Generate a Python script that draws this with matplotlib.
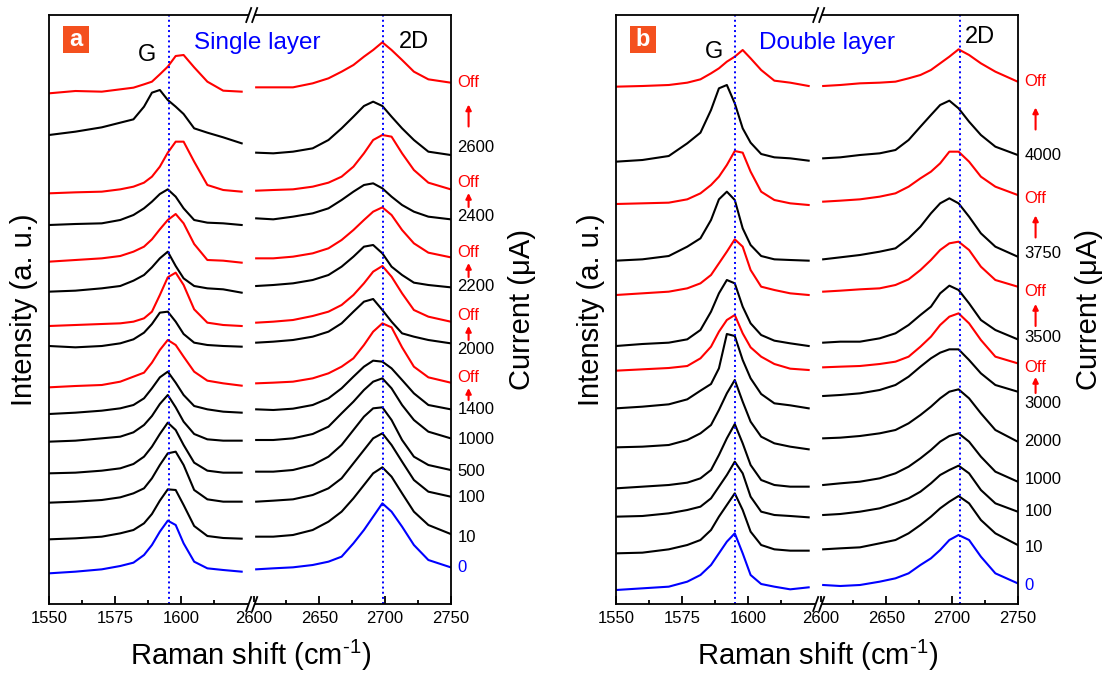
import matplotlib
matplotlib.use('Agg')
import matplotlib.pyplot as plt
from matplotlib.lines import Line2D
from matplotlib.patches import Rectangle

plt.rcParams['font.family'] = ['Liberation Sans', 'DejaVu Sans']
plt.rcParams['mathtext.fontset'] = 'custom'
plt.rcParams['mathtext.rm'] = 'Liberation Sans'
plt.rcParams['mathtext.default'] = 'regular'

W, H = 1109, 677

# Raman shift sampling (cm-1) for the G and 2D windows
g_shift = [1550, 1560, 1570, 1577, 1582, 1586, 1589, 1592, 1595, 1598, 1601, 1605, 1610, 1616, 1623]
d_shift = [2602, 2615, 2630, 2645, 2657, 2667, 2676, 2684, 2691, 2698, 2705, 2713, 2722, 2733, 2750]

# single layer, stacked spectra (a.u.), top to bottom
single_labels = ['Off', '2600', 'Off', '2400', 'Off', '2200', 'Off', '2000', 'Off',
                 '1400', '1000', '500', '100', '10', '0']
single_label_y = [1563, 1368, 1263, 1161, 1053, 951, 864, 762, 678, 582, 492, 399, 321, 198, 111]
single_g = [
    [1532, 1539, 1537, 1544, 1549, 1559, 1567, 1589, 1612, 1644, 1647, 1610, 1567, 1540, 1537],
    [1407, 1417, 1430, 1444, 1454, 1492, 1534, 1542, 1512, 1492, 1470, 1427, 1414, 1400, 1382],
    [1232, 1235, 1237, 1244, 1252, 1264, 1282, 1312, 1354, 1387, 1387, 1327, 1257, 1242, 1237],
    [1137, 1140, 1142, 1152, 1167, 1187, 1207, 1230, 1244, 1222, 1187, 1152, 1144, 1142, 1137],
    [1027, 1032, 1037, 1044, 1057, 1072, 1094, 1124, 1152, 1170, 1142, 1080, 1032, 1030, 1024],
    [937, 940, 947, 954, 970, 987, 1010, 1037, 1057, 1014, 977, 954, 947, 944, 934],
    [834, 837, 840, 842, 847, 857, 877, 927, 980, 994, 957, 884, 844, 837, 834],
    [774, 770, 774, 782, 794, 814, 840, 874, 877, 847, 810, 784, 777, 774, 772],
    [650, 654, 657, 667, 682, 694, 724, 762, 792, 777, 742, 697, 670, 662, 655],
    [570, 574, 580, 587, 597, 617, 647, 680, 697, 664, 627, 594, 584, 577, 574],
    [487, 490, 497, 502, 515, 537, 564, 600, 627, 590, 547, 510, 494, 490, 490],
    [392, 394, 400, 407, 420, 442, 472, 510, 544, 522, 477, 424, 400, 394, 394],
    [304, 307, 312, 320, 332, 347, 377, 417, 452, 457, 417, 342, 314, 307, 307],
    [194, 197, 202, 212, 222, 242, 270, 310, 344, 342, 297, 234, 204, 198, 196],
    [92, 97, 104, 114, 124, 147, 177, 217, 250, 237, 182, 127, 107, 102, 97],
]
single_2d = [
    [1550, 1550, 1550, 1562, 1577, 1597, 1617, 1642, 1662, 1685, 1662, 1632, 1597, 1574, 1564],
    [1354, 1352, 1357, 1367, 1392, 1427, 1462, 1494, 1507, 1494, 1462, 1427, 1392, 1357, 1347],
    [1240, 1242, 1244, 1252, 1264, 1282, 1312, 1352, 1392, 1407, 1402, 1352, 1302, 1264, 1244],
    [1157, 1154, 1162, 1172, 1187, 1212, 1237, 1257, 1262, 1247, 1222, 1197, 1177, 1162, 1154],
    [1037, 1037, 1042, 1052, 1067, 1092, 1122, 1152, 1177, 1190, 1167, 1122, 1082, 1054, 1040],
    [954, 957, 962, 972, 987, 1012, 1042, 1072, 1077, 1052, 1012, 987, 964, 957, 950],
    [844, 847, 852, 864, 877, 897, 927, 962, 997, 1014, 982, 932, 882, 862, 847],
    [784, 787, 792, 802, 817, 842, 877, 907, 915, 882, 847, 812, 802, 792, 782],
    [662, 664, 667, 677, 692, 712, 737, 777, 817, 842, 830, 770, 712, 680, 664],
    [584, 582, 586, 597, 617, 647, 682, 712, 730, 727, 707, 672, 632, 597, 584],
    [492, 492, 497, 510, 532, 572, 607, 642, 667, 677, 647, 597, 552, 517, 497],
    [397, 397, 402, 417, 442, 477, 522, 562, 587, 590, 552, 492, 442, 417, 402],
    [307, 310, 314, 327, 347, 377, 422, 462, 497, 512, 477, 427, 372, 337, 322],
    [202, 202, 207, 222, 247, 277, 317, 357, 392, 410, 382, 332, 277, 237, 210],
    [104, 107, 110, 117, 127, 142, 182, 222, 262, 302, 277, 232, 177, 132, 110],
]

# double layer
double_labels = ['Off', '4000', 'Off', '3750', 'Off', '3500', 'Off', '3000',
                 '2000', '1000', '100', '10', '0']
double_label_y = [1566, 1347, 1215, 1050, 936, 798, 711, 603, 486, 372, 276, 168, 57]
double_g = [
    [1552, 1554, 1557, 1564, 1574, 1592, 1607, 1627, 1642, 1662, 1637, 1602, 1570, 1564, 1554],
    [1327, 1332, 1344, 1382, 1414, 1482, 1547, 1557, 1502, 1427, 1384, 1350, 1340, 1337, 1330],
    [1200, 1202, 1204, 1214, 1232, 1257, 1282, 1317, 1359, 1354, 1297, 1237, 1212, 1202, 1197],
    [1030, 1034, 1044, 1072, 1097, 1152, 1214, 1237, 1212, 1127, 1077, 1044, 1034, 1032, 1030],
    [927, 932, 937, 947, 962, 987, 1022, 1057, 1094, 1072, 1002, 952, 942, 932, 927],
    [774, 780, 784, 794, 822, 877, 932, 972, 962, 892, 842, 807, 790, 782, 774],
    [700, 704, 708, 714, 737, 772, 817, 852, 867, 812, 770, 742, 720, 706, 702],
    [587, 592, 599, 614, 640, 660, 707, 810, 804, 732, 677, 630, 602, 596, 587],
    [470, 472, 477, 492, 512, 537, 582, 632, 672, 607, 547, 502, 482, 472, 464],
    [347, 352, 357, 364, 377, 402, 447, 497, 540, 482, 417, 372, 357, 352, 352],
    [262, 264, 272, 282, 292, 317, 352, 387, 427, 392, 322, 277, 267, 264, 260],
    [152, 154, 164, 177, 192, 222, 262, 297, 332, 282, 217, 177, 164, 160, 160],
    [42, 47, 52, 67, 87, 117, 152, 187, 212, 152, 87, 60, 52, 44, 50],
]
double_2d = [
    [1554, 1557, 1562, 1564, 1567, 1577, 1587, 1602, 1622, 1642, 1664, 1647, 1622, 1597, 1567],
    [1337, 1340, 1347, 1352, 1362, 1392, 1432, 1467, 1497, 1510, 1487, 1447, 1407, 1372, 1347],
    [1207, 1210, 1214, 1222, 1232, 1252, 1277, 1297, 1322, 1357, 1357, 1327, 1282, 1252, 1227],
    [1034, 1040, 1047, 1057, 1067, 1097, 1132, 1172, 1202, 1217, 1202, 1162, 1112, 1072, 1042],
    [937, 940, 944, 947, 957, 974, 1002, 1032, 1062, 1082, 1087, 1062, 1012, 972, 952],
    [784, 787, 787, 797, 812, 837, 867, 892, 932, 955, 942, 902, 852, 822, 794],
    [710, 712, 714, 720, 727, 742, 772, 802, 837, 862, 872, 842, 792, 742, 722],
    [624, 627, 632, 642, 657, 682, 712, 737, 754, 764, 764, 732, 692, 657, 637],
    [497, 499, 504, 512, 522, 542, 567, 592, 617, 637, 644, 617, 572, 522, 487],
    [357, 362, 367, 377, 392, 412, 437, 462, 487, 504, 512, 487, 442, 397, 367],
    [267, 270, 277, 287, 302, 317, 337, 362, 387, 402, 415, 392, 342, 302, 277],
    [164, 167, 170, 182, 192, 212, 237, 262, 287, 307, 324, 302, 252, 212, 177],
    [57, 54, 57, 67, 77, 92, 117, 137, 162, 192, 207, 192, 142, 92, 62],
]

# reference peak positions (dotted lines)
single_peaks = (1595.6, 2698.7)
double_peaks = (1595.2, 2706.0)

fig = plt.figure(figsize=(W / 100, H / 100), dpi=100)


def fx(px):
    return px / W


def fy(py):
    return 1 - py / H


def break_mark(xb, yb):
    fig.add_artist(Rectangle((fx(xb - 3), fy(yb + 2)), 6 / W, 4 / H, facecolor='white',
                             edgecolor='none', transform=fig.transFigure, zorder=5))
    for dx in (-3, 3):
        fig.add_artist(Line2D([fx(xb + dx - 2.5), fx(xb + dx + 2.5)], [fy(yb + 7), fy(yb - 7)],
                              color='black', lw=1.3, zorder=6))


def draw_panel(x0, g_data, d_data, labels, label_y, peaks, letter, title, title_x, d_x, g_y, d_y):
    wl, wr = 202.7, 199.0
    axl = fig.add_axes([fx(x0), fy(604), wl / W, 589 / H])
    axr = fig.add_axes([fx(x0 + wl), fy(604), wr / W, 589 / H])

    for i, lab in enumerate(labels):
        c = 'red' if lab == 'Off' else ('blue' if lab == '0' else 'black')
        axl.plot(g_shift, g_data[i], color=c, lw=1.5)
        axr.plot(d_shift, d_data[i], color=c, lw=1.5)
        axr.text(2755, label_y[i], lab, color=c, fontsize=12, ha='left', va='center')
        if lab == 'Off' and i + 1 < len(labels):
            hi, lo = label_y[i], label_y[i + 1]
            ln = min(hi - lo - 60, 66)
            mid = (hi + lo) / 2
            axr.annotate('', xy=(2763.6, mid + ln / 2), xytext=(2763.6, mid - ln / 2),
                         arrowprops=dict(arrowstyle='-|>', color='red', lw=1.5,
                                         mutation_scale=8, shrinkA=0, shrinkB=0),
                         annotation_clip=False)

    axl.axvline(peaks[0], color='blue', ls=':', lw=1.4)
    axr.axvline(peaks[1], color='blue', ls=':', lw=1.4)

    axl.set_xlim(1550, 1626.8)
    axr.set_xlim(2598.6, 2750)
    axl.set_xticks([1550, 1575, 1600])
    axl.set_xticks([1562.5, 1587.5, 1612.5], minor=True)
    axr.set_xticks([2600, 2650, 2700, 2750])
    axr.set_xticks([2625, 2675, 2725], minor=True)
    for ax in (axl, axr):
        ax.set_ylim(0, 1767)
        ax.set_yticks([])
        ax.tick_params(axis='x', which='major', direction='in', length=6, width=1.3,
                       labelsize=12, pad=5)
        ax.tick_params(axis='x', which='minor', direction='in', length=3, width=1.3)
        for s in ax.spines.values():
            s.set_linewidth(1.3)
    axl.spines['right'].set_visible(False)
    axr.spines['left'].set_visible(False)

    xb = x0 + wl
    break_mark(xb, 15)
    break_mark(xb, 604)

    fig.add_artist(Rectangle((fx(x0 + 13.5), fy(53)), 26 / W, 27 / H, facecolor='#F4501E',
                             edgecolor='none', transform=fig.transFigure))
    fig.text(fx(x0 + 26.5), fy(40), letter, color='white', fontsize=17, fontweight='bold',
             ha='center', va='center')
    fig.text(fx(x0 + 98), fy(g_y), 'G', fontsize=17, ha='center', va='center')
    fig.text(fx(x0 + title_x), fy(43), title, color='blue', fontsize=17.5, ha='center', va='center')
    fig.text(fx(x0 + d_x), fy(d_y), '2D', fontsize=17, ha='center', va='center')
    fig.text(fx(x0 - 25.3), fy(309.5), 'Intensity (a. u.)', rotation=90, fontsize=21,
             ha='center', va='center')
    fig.text(fx(x0 + 473), fy(309.5), 'Current (\u03bcA)', rotation=90, fontsize=21,
             ha='center', va='center')
    fig.text(fx(x0 + 202), fy(655), r'Raman shift (cm$^{\text{-}1}$)', fontsize=21,
             ha='center', va='center')


draw_panel(49, single_g, single_2d, single_labels, single_label_y, single_peaks, 'a',
           'Single layer', 208.6, 365, 55, 42)
draw_panel(616, double_g, double_2d, double_labels, double_label_y, double_peaks, 'b',
           'Double layer', 211, 364, 52, 37)

fig.savefig('out.png', dpi=100)
